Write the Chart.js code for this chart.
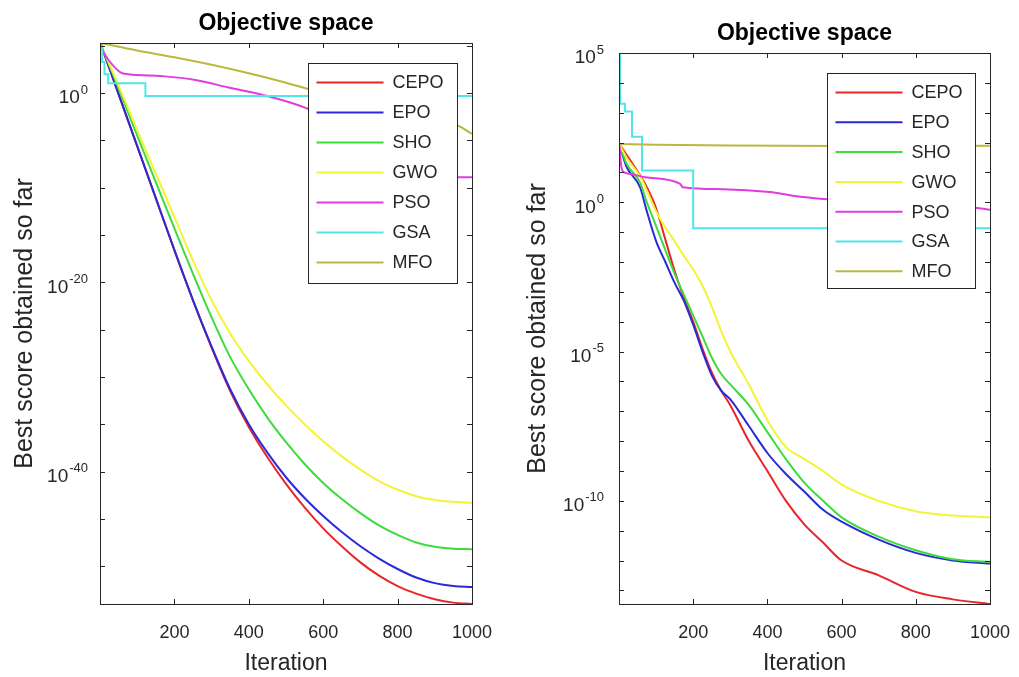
<!DOCTYPE html>
<html>
<head>
<meta charset="utf-8">
<title>Objective space</title>
<script src="https://cdn.jsdelivr.net/npm/chart.js@4.4.1/dist/chart.umd.min.js"></script>
<style>
    body { margin: 0; background: #fff; }
    .panel { position: absolute; top: 0; }
</style>
</head>
<body>
<div class="panel" style="left:0"><canvas id="leftChart" width="500" height="677"></canvas></div>
<div class="panel" style="left:510px"><canvas id="rightChart" width="509" height="677"></canvas></div>
<script>
const algorithms = ["CEPO", "EPO", "SHO", "GWO", "PSO", "GSA", "MFO"];
const lineColors = ["#e8262a", "#2a2ad8", "#3ddc3d", "#f3f338", "#e03ce0", "#4fe6ea", "#b9b83f"];
const xTicks = [200, 400, 600, 800, 1000];

// Left panel: convergence curves
const iterLeft = [1, 50, 100, 150, 200, 250, 300, 350, 400, 450, 500, 550, 600, 650, 700, 750, 800, 850, 900, 950, 1000];
const cepoLeft = [2e5, 8e-1, 2.5e-6, 7.9e-12, 2.5e-17, 1.26e-22, 1.26e-27, 3.2e-32, 5e-36, 3.2e-39, 5e-42, 1.6e-44, 1e-46, 1.26e-48, 2.5e-50, 1e-51, 7.9e-53, 1.26e-53, 3.2e-54, 1.4e-54, 1e-54];
const epoLeft = [2e5, 8e-1, 2.5e-6, 7.9e-12, 2.5e-17, 1.26e-22, 1.6e-27, 5e-32, 1e-35, 1e-38, 2.5e-41, 1.6e-43, 2e-45, 4e-47, 1.26e-48, 6.3e-50, 5e-51, 6.3e-52, 1.6e-52, 7.9e-53, 6.3e-53];
const shoLeft = [2e5, 3.2, 3.2e-5, 4e-10, 5e-15, 7.9e-20, 2e-24, 1.26e-28, 5e-32, 5e-35, 1.26e-37, 6.3e-40, 6.3e-42, 1.26e-43, 4e-45, 2e-46, 2e-47, 3.2e-48, 1.1e-48, 7.1e-49, 6.3e-49];
const gwoLeft = [2e5, 6.3, 1.26e-4, 3.2e-9, 7.9e-14, 2e-18, 1.26e-22, 4e-26, 5e-29, 1.6e-31, 1e-33, 1e-35, 1.6e-37, 4e-39, 1.6e-40, 1e-41, 1.26e-42, 2.5e-43, 1e-43, 6.3e-44, 5e-44];
const psoIterLeft = [1, 10, 23, 55, 76, 168, 256, 345, 450, 556, 650, 750, 850, 960, 1000];
const psoLeft = [2e5, 2e4, 3.2e3, 158, 100, 63, 25, 4, 0.5, 0.025, 3.2e-4, 3.2e-6, 5e-8, 1.26e-9, 1.26e-9];
const gsaIterLeft = [1, 6, 12, 22, 122, 1000];
const gsaLeft = [2e5, 2e3, 100, 11, 0.5, 0.5];
const mfoIterLeft = [1, 100, 200, 300, 400, 500, 600, 700, 800, 900, 960, 1000];
const mfoLeft = [2e5, 3.2e4, 6.3e3, 1e3, 126, 12.6, 1, 0.1, 0.0126, 1.6e-3, 4e-4, 5e-5];
const yMarksLeft = [5, 0, -5, -10, -15, -20, -25, -30, -35, -40, -45, -50];
const yLabelsLeft = [0, -20, -40];

// Right panel: convergence curves
const iterRight = [1, 20, 57, 75, 100, 125, 150, 175, 200, 225, 250, 275, 300, 350, 400, 450, 500, 550, 600, 700, 800, 900, 1000];
const cepoRight = [89, 40, 7.9, 3.2, 0.63, 0.056, 5e-3, 6.3e-4, 1e-4, 1.26e-5, 2e-6, 5e-7, 1.6e-7, 1e-8, 1e-9, 1e-10, 1.6e-11, 4e-12, 1e-12, 3.2e-13, 8.9e-14, 5e-14, 3.5e-14];
const epoRight = [89, 15.8, 3.16, 0.5, 0.05, 0.01, 2e-3, 5e-4, 7.9e-5, 1e-5, 1.6e-6, 5e-7, 2.5e-7, 3.2e-8, 4e-9, 7.9e-10, 2e-10, 5e-11, 2e-11, 5e-12, 1.8e-12, 1e-12, 7.9e-13];
const shoRight = [89, 20, 4.5, 1, 0.16, 0.025, 4e-3, 7.9e-4, 1.6e-4, 3.2e-5, 6.3e-6, 1.8e-6, 7.9e-7, 1.6e-7, 2e-8, 2.5e-9, 4e-10, 1e-10, 2.8e-11, 6.3e-12, 2.2e-12, 1.1e-12, 8.9e-13];
const gwoRight = [89, 31.6, 7.4, 2.5, 0.5, 0.14, 0.05, 0.016, 5.6e-3, 1.6e-3, 3.2e-4, 5e-5, 1e-5, 7.9e-7, 5e-8, 6.3e-9, 2.5e-9, 1e-9, 3.5e-10, 1e-10, 4.5e-11, 3.2e-11, 2.8e-11];
const psoIterRight = [1, 5, 10, 30, 70, 164, 172, 280, 407, 469, 560, 700, 850, 960, 1000];
const psoRight = [89, 20, 11, 8.9, 6.9, 4.2, 3.2, 2.75, 2.2, 1.66, 1.26, 0.95, 0.76, 0.66, 0.56];
const gsaIterRight = [1, 3, 16, 35, 62, 200, 1000];
const gsaRight = [1e5, 2e3, 1.1e3, 158, 11.7, 0.135, 0.135];
const mfoIterRight = [1, 300, 600, 1000];
const mfoRight = [89, 79, 76, 78];
const yMarksRight = [5, 4, 3, 2, 1, 0, -1, -2, -3, -4, -5, -6, -7, -8, -9, -10, -11, -12, -13];
const yLabelsRight = [5, 0, -5, -10];

const FONT = "'Liberation Sans', Arial, Helvetica, sans-serif";
const INK = "#262626";
Chart.defaults.font.family = FONT;

// Box, inward ticks, 10^n labels and legend drawn over the plot area
const axesBoxPlugin = {
    id: "axesBox",
    afterDatasetsDraw(chart, args, opts) {
        const ctx = chart.ctx;
        const a = chart.chartArea;
        const xs = chart.scales.x;
        const ys = chart.scales.y;
        const tick = 5;

        ctx.save();
        ctx.strokeStyle = INK;
        ctx.lineWidth = 1;
        ctx.strokeRect(Math.round(a.left) + 0.5, Math.round(a.top) + 0.5,
            Math.round(a.right - a.left), Math.round(a.bottom - a.top));

        ctx.beginPath();
        xTicks.forEach(function (v) {
            const x = Math.round(xs.getPixelForValue(v)) + 0.5;
            ctx.moveTo(x, a.bottom); ctx.lineTo(x, a.bottom - tick);
            ctx.moveTo(x, a.top); ctx.lineTo(x, a.top + tick);
        });
        opts.yMarks.forEach(function (e) {
            const y = Math.round(ys.getPixelForValue(Math.pow(10, e))) + 0.5;
            ctx.moveTo(a.left, y); ctx.lineTo(a.left + tick, y);
            ctx.moveTo(a.right, y); ctx.lineTo(a.right - tick, y);
        });
        ctx.stroke();

        // y tick labels as 10 with a raised exponent
        ctx.fillStyle = INK;
        ctx.textBaseline = "middle";
        ctx.textAlign = "left";
        opts.yLabels.forEach(function (e) {
            const y = ys.getPixelForValue(Math.pow(10, e));
            ctx.font = "19px " + FONT;
            const wBase = ctx.measureText("10").width;
            ctx.font = "13px " + FONT;
            const wExp = ctx.measureText(String(e)).width;
            const x0 = a.left - opts.labelGap - wExp - wBase - 1;
            ctx.font = "19px " + FONT;
            ctx.fillText("10", x0, y + 5);
            ctx.font = "13px " + FONT;
            ctx.fillText(String(e), x0 + wBase + 1, y - 3);
        });

        // legend box in the upper right corner
        const lg = opts.legend;
        const bx = Math.round(a.right - lg.right - lg.width) + 0.5;
        const by = Math.round(a.top + lg.top) + 0.5;
        ctx.fillStyle = "#fff";
        ctx.fillRect(bx, by, lg.width, lg.height);
        ctx.strokeStyle = INK;
        ctx.strokeRect(bx, by, lg.width, lg.height);
        ctx.font = "18px " + FONT;
        chart.data.datasets.forEach(function (ds, i) {
            const y = by + lg.first + i * lg.gap;
            ctx.strokeStyle = ds.borderColor;
            ctx.lineWidth = 2;
            ctx.beginPath();
            ctx.moveTo(bx + 8, y);
            ctx.lineTo(bx + 75, y);
            ctx.stroke();
            ctx.fillStyle = INK;
            ctx.fillText(ds.label, bx + 84, y + 1);
        });
        ctx.restore();
    },
};

function series(iters, values, stepped) {
    return {iters: iters, values: values, stepped: stepped || false};
}

function createPanel(canvasId, cfg) {
    const ctx = document.getElementById(canvasId).getContext("2d");
    return new Chart(ctx, {
        type: "line",
        data: {
            datasets: cfg.series.map(function (s, i) {
                return {
                    label: algorithms[i],
                    data: s.iters.map(function (x, k) {
                        return {x: x, y: s.values[k]};
                    }),
                    borderColor: lineColors[i],
                    backgroundColor: lineColors[i],
                    borderWidth: 2,
                    pointRadius: 0,
                    cubicInterpolationMode: s.stepped ? "default" : "monotone",
                    stepped: s.stepped,
                    order: algorithms.length - i,
                };
            }),
        },
        options: {
            responsive: false,
            animation: false,
            events: [],
            layout: {
                padding: {left: cfg.padLeft, right: cfg.padRight, top: 0, bottom: 0},
            },
            plugins: {
                legend: {display: false},
                tooltip: {enabled: false},
                title: {
                    display: true,
                    text: "Objective space",
                    fullSize: false,
                    color: "#000",
                    font: {size: 23, weight: "bold"},
                    padding: {top: cfg.titleTop, bottom: 5.4},
                },
                axesBox: {
                    yMarks: cfg.yMarks,
                    yLabels: cfg.yLabels,
                    labelGap: cfg.labelGap,
                    legend: cfg.legend,
                },
            },
            scales: {
                x: {
                    type: "linear",
                    bounds: "data",
                    min: 0,
                    max: 1000,
                    grid: {display: false},
                    border: {display: false},
                    afterBuildTicks: function (scale) {
                        scale.ticks = xTicks.map(function (v) {
                            return {value: v};
                        });
                    },
                    afterFit: function (scale) {
                        scale.height = 73;
                        scale.paddingLeft = 0;
                        scale.paddingRight = 0;
                    },
                    ticks: {
                        color: INK,
                        font: {size: 18},
                        padding: 10,
                        maxRotation: 0,
                        autoSkip: false,
                        callback: function (value) {
                            return String(value);
                        },
                    },
                    title: {
                        display: true,
                        text: "Iteration",
                        color: INK,
                        font: {size: 23},
                        padding: {top: 0, bottom: 0},
                    },
                },
                y: {
                    type: "logarithmic",
                    bounds: "data",
                    min: cfg.yMin,
                    max: cfg.yMax,
                    grid: {display: false},
                    border: {display: false},
                    ticks: {display: false},
                    afterFit: function (scale) {
                        scale.width = cfg.yWidth;
                        scale.paddingTop = 0;
                        scale.paddingBottom = 0;
                    },
                    title: {
                        display: true,
                        text: "Best score obtained so far",
                        color: INK,
                        font: {size: 25},
                        padding: {top: 4, bottom: 0},
                    },
                },
            },
        },
        plugins: [axesBoxPlugin],
    });
}

createPanel("leftChart", {
    series: [
        series(iterLeft, cepoLeft),
        series(iterLeft, epoLeft),
        series(iterLeft, shoLeft),
        series(iterLeft, gwoLeft),
        series(psoIterLeft, psoLeft),
        series(gsaIterLeft, gsaLeft, true),
        series(mfoIterLeft, mfoLeft),
    ],
    yMin: 1e-54,
    yMax: 2e5,
    yMarks: yMarksLeft,
    yLabels: yLabelsLeft,
    padLeft: 6,
    padRight: 28,
    yWidth: 94,
    titleTop: 10,
    labelGap: 12,
    legend: {right: 15, top: 20, width: 149, height: 220, first: 19, gap: 30},
});

createPanel("rightChart", {
    series: [
        series(iterRight, cepoRight),
        series(iterRight, epoRight),
        series(iterRight, shoRight),
        series(iterRight, gwoRight),
        series(psoIterRight, psoRight),
        series(gsaIterRight, gsaRight, true),
        series(mfoIterRight, mfoRight),
    ],
    yMin: 3.5e-14,
    yMax: 1e5,
    yMarks: yMarksRight,
    yLabels: yLabelsRight,
    padLeft: 9,
    padRight: 29,
    yWidth: 100,
    titleTop: 20,
    labelGap: 15,
    legend: {right: 15, top: 20, width: 148, height: 215, first: 19, gap: 29.8},
});
</script>
</body>
</html>
